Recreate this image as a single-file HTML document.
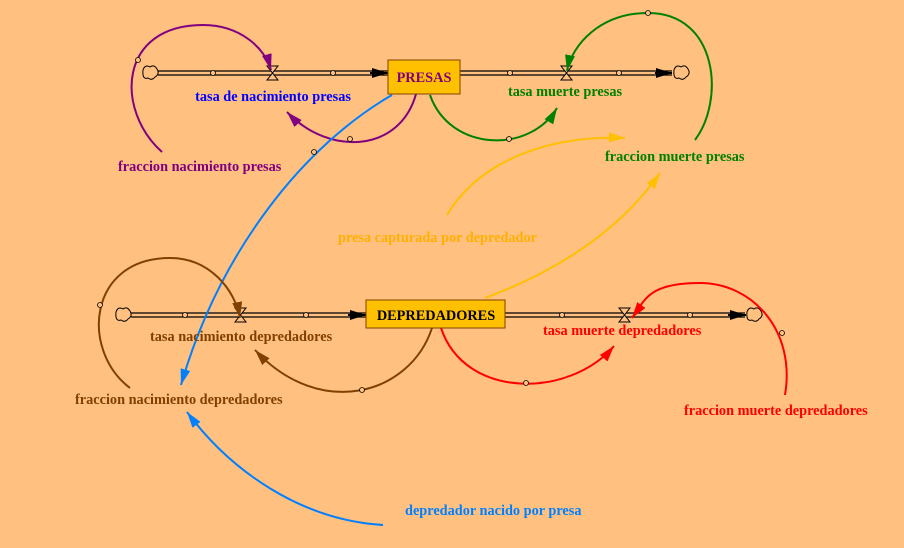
<!DOCTYPE html>
<html><head><meta charset="utf-8"><style>
body{margin:0;background:#FFC080;}
svg{display:block}
text{font-family:"Liberation Serif",serif;font-weight:bold;font-size:14.3px}
</style></head><body>
<svg width="904" height="548" viewBox="0 0 904 548" xmlns="http://www.w3.org/2000/svg">
<defs>
<marker id="mk" viewBox="0 0 16 10" refX="16" refY="5" markerWidth="16" markerHeight="10" markerUnits="userSpaceOnUse" orient="auto"><path d="M0,0L16,5L0,10z" fill="#000"/></marker>
<marker id="mp" viewBox="0 0 16 10" refX="16" refY="5" markerWidth="16" markerHeight="10" markerUnits="userSpaceOnUse" orient="auto"><path d="M0,0L16,5L0,10z" fill="#800080"/></marker>
<marker id="mg" viewBox="0 0 16 10" refX="16" refY="5" markerWidth="16" markerHeight="10" markerUnits="userSpaceOnUse" orient="auto"><path d="M0,0L16,5L0,10z" fill="#008000"/></marker>
<marker id="mb" viewBox="0 0 16 10" refX="16" refY="5" markerWidth="16" markerHeight="10" markerUnits="userSpaceOnUse" orient="auto"><path d="M0,0L16,5L0,10z" fill="#0080FF"/></marker>
<marker id="mo" viewBox="0 0 16 10" refX="16" refY="5" markerWidth="16" markerHeight="10" markerUnits="userSpaceOnUse" orient="auto"><path d="M0,0L16,5L0,10z" fill="#FFC000"/></marker>
<marker id="mw" viewBox="0 0 16 10" refX="16" refY="5" markerWidth="16" markerHeight="10" markerUnits="userSpaceOnUse" orient="auto"><path d="M0,0L16,5L0,10z" fill="#804000"/></marker>
<marker id="mr" viewBox="0 0 16 10" refX="16" refY="5" markerWidth="16" markerHeight="10" markerUnits="userSpaceOnUse" orient="auto"><path d="M0,0L16,5L0,10z" fill="#FF0000"/></marker>
</defs>
<g fill="none" stroke-width="2">
<g stroke="#000" stroke-width="1.3">
<path d="M158,71H388M158,75H388"/><path d="M460,71H672M460,75H672"/>
<path d="M131,313H366M131,317H366"/><path d="M505,313H745M505,317H745"/>
</g>
<path d="M370,73H388" stroke="#000" marker-end="url(#mk)"/>
<path d="M655,73H672" stroke="#000" marker-end="url(#mk)"/>
<path d="M348,315H366" stroke="#000" marker-end="url(#mk)"/>
<path d="M728,315H746" stroke="#000" marker-end="url(#mk)"/>
<g stroke="#000" stroke-width="1" fill="#FFC080">
<path d="M143,70q2,-6 7,-3q4,-3 7,2q3,5 -2,8q-3,4 -7,1q-6,2 -5,-8z"/>
<path d="M674,70q2,-6 7,-3q4,-3 7,2q3,5 -2,8q-3,4 -7,1q-6,2 -5,-8z"/>
<path d="M116,312q2,-6 7,-3q4,-3 7,2q3,5 -2,8q-3,4 -7,1q-6,2 -5,-8z"/>
<path d="M747,312q2,-6 7,-3q4,-3 7,2q3,5 -2,8q-3,4 -7,1q-6,2 -5,-8z"/>
</g>
<g stroke="#000" stroke-width="1" fill="#FFC080">
<path d="M267,66H278L267,80H278Z"/><path d="M561,66H572L561,80H572Z"/>
<path d="M235,308H246L235,322H246Z"/><path d="M619,308H630L619,322H630Z"/>
</g>
<path d="M162,152 C115,110 118,25 203,25 C240,25 265,48 271,70" stroke="#800080" marker-end="url(#mp)"/>
<path d="M416,94 C400,152 330,157 287,112" stroke="#800080" marker-end="url(#mp)"/>
<path d="M430,95 C450,152 530,154 557,108" stroke="#008000" marker-end="url(#mg)"/>
<path d="M695,140 C725,100 718,13 648,13 C600,13 572,45 567,71" stroke="#008000" marker-end="url(#mg)"/>
<path d="M392,95 C305,145 220,250 181,385" stroke="#0080FF" marker-end="url(#mb)"/>
<path d="M447,215 C480,160 550,135 625,138" stroke="#FFC000" marker-end="url(#mo)"/>
<path d="M485,298 C560,270 620,230 660,173" stroke="#FFC000" marker-end="url(#mo)"/>
<path d="M130,388 C80,350 88,258 170,258 C210,258 235,290 240,318" stroke="#804000" marker-end="url(#mw)"/>
<path d="M432,328 C410,395 320,420 255,350" stroke="#804000" marker-end="url(#mw)"/>
<path d="M441,328 C465,400 570,398 614,346" stroke="#FF0000" marker-end="url(#mr)"/>
<path d="M785,395 C796,330 752,283 700,283 S645,300 632,318" stroke="#FF0000" marker-end="url(#mr)"/>
<path d="M383,525 C300,520 230,470 187,412" stroke="#0080FF" marker-end="url(#mb)"/>
</g>
<g fill="#FFC080" stroke="#000" stroke-width="0.8">
<circle cx="213" cy="73" r="2.5"/><circle cx="333" cy="73" r="2.5"/>
<circle cx="510" cy="73" r="2.5"/><circle cx="619" cy="73" r="2.5"/>
<circle cx="185" cy="315" r="2.5"/><circle cx="306" cy="315" r="2.5"/>
<circle cx="562" cy="315" r="2.5"/><circle cx="690" cy="315" r="2.5"/>
<circle cx="648" cy="13" r="2.5"/><circle cx="509" cy="139" r="2.5"/><circle cx="350" cy="139" r="2.5"/>
<circle cx="314" cy="152" r="2.5"/><circle cx="362" cy="390" r="2.5"/><circle cx="526" cy="383" r="2.5"/>
<circle cx="782" cy="333" r="2.5"/><circle cx="100" cy="305" r="2.5"/><circle cx="138" cy="60" r="2.5"/>
</g>
<rect x="388" y="60" width="72" height="34" fill="#FFC000" stroke="#804000" stroke-width="1"/>
<rect x="366" y="300" width="139" height="28" fill="#FFC000" stroke="#804000" stroke-width="1"/>
<text x="424" y="82" text-anchor="middle" fill="#800080" font-size="15">PRESAS</text>
<text x="436" y="320" text-anchor="middle" fill="#000" font-size="15">DEPREDADORES</text>
<text x="273" y="101" text-anchor="middle" fill="#0000FF">tasa de nacimiento presas</text>
<text x="565" y="96" text-anchor="middle" fill="#008000">tasa muerte presas</text>
<text x="118" y="171" fill="#800080">fraccion nacimiento presas</text>
<text x="605" y="161" fill="#008000">fraccion muerte presas</text>
<text x="338" y="242" fill="#FFB000">presa capturada por depredador</text>
<text x="150" y="341" fill="#804000">tasa nacimiento depredadores</text>
<text x="543" y="335" fill="#FF0000">tasa muerte depredadores</text>
<text x="75" y="404" fill="#804000">fraccion nacimiento depredadores</text>
<text x="684" y="415" fill="#FF0000">fraccion muerte depredadores</text>
<text x="405" y="515" fill="#0080FF">depredador nacido por presa</text>
</svg>
</body></html>
